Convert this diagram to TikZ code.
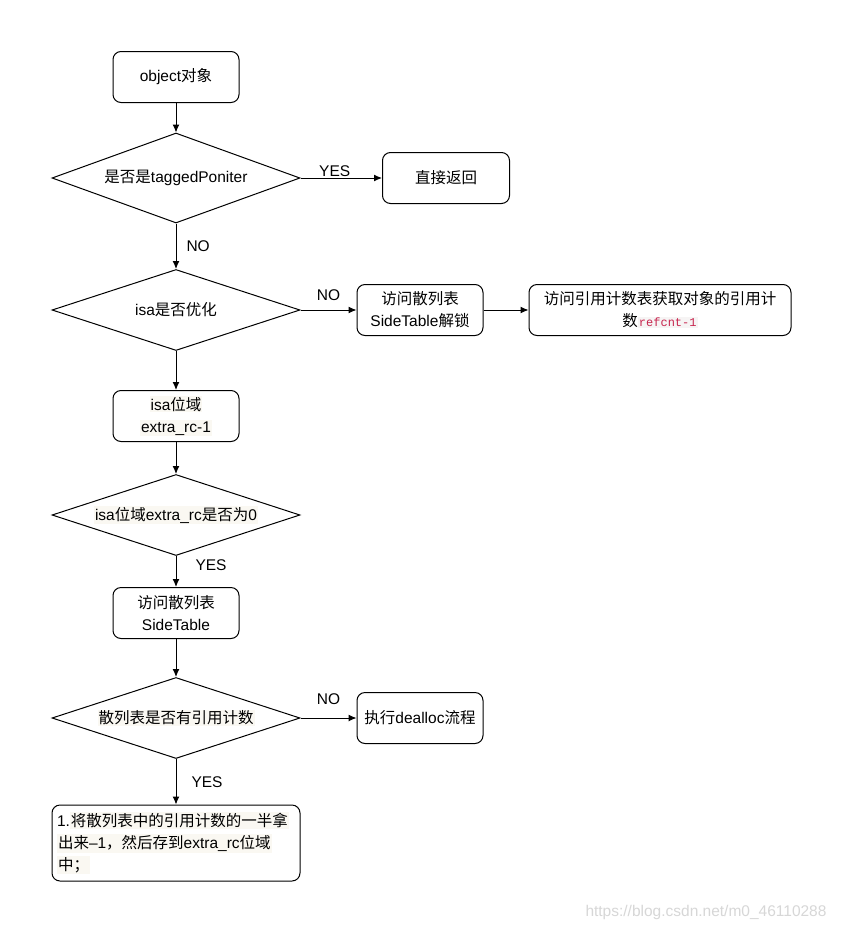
\documentclass[tikz,border=0pt]{standalone}
\usepackage{fontspec}
\setmainfont{Liberation Sans}
\setmonofont{Liberation Mono}
\newfontfamily\zh{Noto Sans CJK SC}
\usetikzlibrary{shapes.geometric}
\usetikzlibrary{arrows.meta}
\tikzset{>={Latex[length=8pt,width=7pt]}}
\definecolor{hlbg}{RGB}{250,248,242}
\definecolor{codered}{RGB}{199,37,78}
\definecolor{codebg}{RGB}{246,244,244}
\definecolor{marktext}{RGB}{215,215,215}
\newcommand{\hl}[1]{{\setlength{\fboxsep}{1pt}\colorbox{hlbg}{#1}}}
\newcommand{\refcode}[1]{{\setlength{\fboxsep}{1pt}\colorbox{codebg}{\fontsize{12}{14}\selectfont\ttfamily\color{codered}#1}}}
\tikzset{
  box/.style={draw, rounded corners=8pt, minimum width=126pt, minimum height=51pt, align=center},
  decision/.style={draw, diamond, aspect=3, minimum width=248pt, minimum height=81pt, inner sep=0pt},
  lbl/.style={inner sep=1pt}
}

\begin{document}
\begin{tikzpicture}[x=1pt, y=-1pt, line width=1pt, font=\fontsize{15.5}{22}\selectfont]
  \useasboundingbox[fill=white] (0,0) rectangle (842,932);
  \node[box] (obj) at (176,77) {object{\zh 对象}};
  \node[decision, minimum height=90pt] (tag) at (176,178) {{\zh 是否是}taggedPoniter};
  \node[box, minimum width=127pt] (ret) at (446,178) {\zh 直接返回};
  \node[decision] (opt) at (176,310) {isa{\zh 是否优化}};
  \node[box] (unlock) at (420,310) {{\zh 访问散列表}\\SideTable{\zh 解锁}};
  \node[box, minimum width=262pt] (cnt) at (660,310) {{\zh 访问引用计数表获取对象的引用计}\\{\zh 数}\refcode{refcnt-1}};
  \node[box] (bits) at (176,416) {\hl{isa{\zh 位域}}\\\hl{extra\_rc-1}};
  \node[decision] (zero) at (176,515) {\hl{isa{\zh 位域}extra\_rc{\zh 是否为}0}};
  \node[box] (side) at (176,613) {{\zh 访问散列表}\\SideTable};
  \node[decision] (has) at (176,718) {\hl{\zh 散列表是否有引用计数}};
  \node[box] (dealloc) at (420,718) {{\zh 执行}dealloc{\zh 流程}};
  \node[box, minimum width=248pt, minimum height=76pt, text width=238pt, align=left] (half) at (176,843)
    {1.\hl{\zh 将散列表中的引用计数的一半拿}\\\hl{{\zh 出来}–1{\zh ，然后存到}extra\_rc{\zh 位域}}\\\hl{\zh 中；}};
  \node[text=marktext] (mark) at (706,912) {https://blog.csdn.net/m0\_46110288};

  \draw[->] (obj) -- (tag);
  \draw[->] (tag) -- node[lbl, above, pos=0.42] {YES} (ret);
  \draw[->] (tag) -- node[lbl, right=9pt] {NO} (opt);
  \draw[->] (opt) -- node[lbl, above=8pt] {NO} (unlock);
  \draw[->] (unlock) -- (cnt);
  \draw[->] (opt) -- (bits);
  \draw[->] (bits) -- (zero);
  \draw[->] (zero) -- node[lbl, right=18pt, pos=0.3] {YES} (side);
  \draw[->] (side) -- (has);
  \draw[->] (has) -- node[lbl, above=12pt] {NO} (dealloc);
  \draw[->] (has) -- node[lbl, right=14pt] {YES} (half);
\end{tikzpicture}
\end{document}
